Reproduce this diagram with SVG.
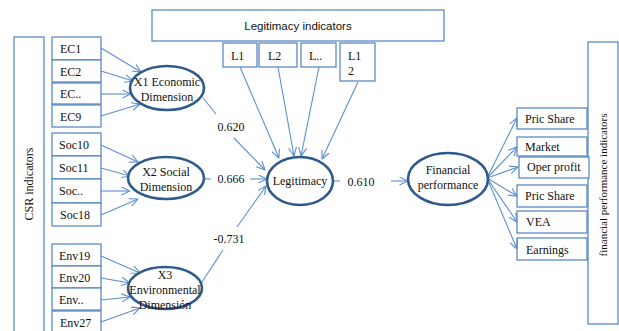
<svg xmlns="http://www.w3.org/2000/svg" width="619" height="331" viewBox="0 0 619 331">
<defs>
<marker id="arr" viewBox="0 0 10 10" refX="9.5" refY="5" markerWidth="9" markerHeight="9" markerUnits="userSpaceOnUse" orient="auto">
<path d="M0,0.5 L9.5,5 L0,9.5" fill="none" stroke="#5b8fd0" stroke-width="1.2"/>
</marker>
</defs>
<style>
.box{fill:#fff;stroke:#4f81bd;stroke-width:1.2}
.ell{fill:#fff;stroke:#2f5b8c;stroke-width:2.6}
.ln{fill:none;stroke:#5b8fd0;stroke-width:1.1}
.a{marker-end:url(#arr)}
.t{font-family:'Liberation Serif','Times New Roman',serif;font-size:12px;fill:#111}
.s{font-family:'Liberation Sans',Arial,sans-serif;font-size:11.5px;fill:#111}
.c{text-anchor:middle}
</style>
<rect width="619" height="331" fill="#fff"/>
<g font-family="Liberation Serif, serif">
<g id="csr-indicators">
<rect class="box" x="14" y="37" width="30" height="300"/>
<text class="t c" transform="translate(33,184) rotate(-90)">CSR indicators</text>
</g>
<g id="legitimacy-indicators">
<rect class="box" x="152" y="10" width="292" height="31"/>
<text class="s c" x="298" y="30">Legitimacy indicators</text>
</g>
<g id="fp-indicators">
<rect class="box" x="588" y="42" width="30" height="282"/>
<text class="t c" transform="translate(607,185) rotate(-90)" style="font-size:11px">financial performance indicators</text>
</g>

<g id="ec1"><rect class="box" x="52" y="37" width="49" height="23"/><text class="t" x="60" y="53">EC1</text></g>
<g id="ec2"><rect class="box" x="52" y="60" width="49" height="22"/><text class="t" x="60" y="76">EC2</text></g>
<g id="ecx"><rect class="box" x="52" y="83" width="49" height="21"/><text class="t" x="60" y="98">EC..</text></g>
<g id="ec9"><rect class="box" x="52" y="105" width="49" height="22"/><text class="t" x="60" y="121">EC9</text></g>

<g id="soc10"><rect class="box" x="52" y="133" width="49" height="23"/><text class="t" x="59" y="149">Soc10</text></g>
<g id="soc11"><rect class="box" x="52" y="156" width="49" height="23"/><text class="t" x="59" y="172">Soc11</text></g>
<g id="socx"><rect class="box" x="52" y="179" width="49" height="24"/><text class="t" x="59" y="195">Soc..</text></g>
<g id="soc18"><rect class="box" x="52" y="203" width="49" height="23"/><text class="t" x="60" y="219">Soc18</text></g>

<g id="env19"><rect class="box" x="52" y="244" width="49" height="22"/><text class="t" x="59" y="260">Env19</text></g>
<g id="env20"><rect class="box" x="52" y="266" width="49" height="22"/><text class="t" x="59" y="282">Env20</text></g>
<g id="envx"><rect class="box" x="52" y="288" width="49" height="22"/><text class="t" x="59" y="304">Env..</text></g>
<g id="env27"><rect class="box" x="52" y="311" width="49" height="24"/><text class="t" x="60" y="327">Env27</text></g>

<g id="l1"><rect class="box" x="223" y="43" width="34" height="24"/><text class="t" x="231" y="60">L1</text></g>
<g id="l2"><rect class="box" x="259" y="43" width="38" height="24"/><text class="t" x="268" y="60">L2</text></g>
<g id="lx"><rect class="box" x="301" y="43" width="35" height="24"/><text class="t" x="309" y="60">L..</text></g>
<g id="l12"><rect class="box" x="340" y="43" width="35" height="38"/><text class="t" x="348" y="60">L1</text><text class="t" x="348" y="75">2</text></g>

<g id="pric-share-1"><rect class="box" x="517" y="108" width="70" height="21"/><text class="t" x="525" y="123">Pric Share</text></g>
<g id="market"><rect class="box" x="517" y="137" width="70" height="19"/><text class="t" x="525" y="151">Market</text></g>
<g id="oper-profit"><rect class="box" x="519" y="157" width="70" height="21"/><text class="t" x="527" y="171">Oper profit</text></g>
<g id="pric-share-2"><rect class="box" x="517" y="185" width="70" height="22"/><text class="t" x="525" y="200">Pric Share</text></g>
<g id="vea"><rect class="box" x="517" y="211" width="70" height="22"/><text class="t" x="526" y="226">VEA</text></g>
<g id="earnings"><rect class="box" x="517" y="238" width="70" height="22"/><text class="t" x="526" y="254">Earnings</text></g>

<g id="connectors">
<line class="ln a" x1="101" y1="48" x2="141" y2="72"/>
<line class="ln a" x1="101" y1="71" x2="133" y2="81"/>
<line class="ln a" x1="101" y1="94" x2="131" y2="94"/>
<line class="ln a" x1="101" y1="116" x2="140" y2="104"/>

<line class="ln a" x1="101" y1="145" x2="138" y2="162"/>
<line class="ln a" x1="101" y1="168" x2="130" y2="176"/>
<line class="ln a" x1="101" y1="191" x2="130" y2="191"/>
<line class="ln a" x1="101" y1="215" x2="138" y2="199"/>

<line class="ln a" x1="101" y1="256" x2="140" y2="273"/>
<line class="ln a" x1="101" y1="278" x2="130" y2="283"/>
<line class="ln a" x1="101" y1="300" x2="130" y2="297"/>
<line class="ln a" x1="101" y1="322" x2="140" y2="308"/>

<line class="ln" x1="203" y1="98" x2="216" y2="114"/>
<line class="ln a" x1="234" y1="138" x2="265" y2="170"/>
<line class="ln" x1="204" y1="179" x2="211" y2="179"/>
<line class="ln a" x1="250" y1="179" x2="267" y2="179"/>
<line class="ln" x1="200" y1="285" x2="223" y2="250"/>
<line class="ln a" x1="237" y1="227" x2="266" y2="186"/>

<line class="ln a" x1="240" y1="67" x2="279" y2="158"/>
<line class="ln a" x1="278" y1="67" x2="294" y2="156"/>
<line class="ln a" x1="319" y1="67" x2="301" y2="156"/>
<line class="ln a" x1="358" y1="82" x2="322" y2="159"/>

<line class="ln" x1="333" y1="181" x2="340" y2="181"/>
<line class="ln a" x1="391" y1="181" x2="408" y2="181"/>

<line class="ln a" x1="487" y1="178" x2="517" y2="118"/>
<line class="ln a" x1="487" y1="178" x2="517" y2="147"/>
<line class="ln a" x1="487" y1="178" x2="518" y2="167"/>
<line class="ln a" x1="487" y1="178" x2="517" y2="196"/>
<line class="ln a" x1="487" y1="178" x2="517" y2="222"/>
<line class="ln a" x1="487" y1="178" x2="517" y2="249"/>

<text class="t c" x="231" y="131">0.620</text>
<text class="t c" x="231" y="183">0.666</text>
<text class="t c" x="229" y="243">-0.731</text>
<text class="t c" x="361" y="186">0.610</text>
</g>

<g id="x1"><ellipse class="ell" cx="167" cy="88" rx="37" ry="22"/><text class="t c" x="167" y="86">X1 Economic</text><text class="t c" x="167" y="101">Dimension</text></g>
<g id="x2"><ellipse class="ell" cx="166" cy="178" rx="38" ry="21"/><text class="t c" x="166" y="176">X2 Social</text><text class="t c" x="166" y="191">Dimension</text></g>
<g id="x3"><ellipse class="ell" cx="165" cy="288" rx="37" ry="21"/><text class="t c" x="165" y="279">X3</text><text class="t c" x="165" y="294">Environmental</text><text class="t c" x="165" y="309">Dimensión</text></g>
<g id="legitimacy"><ellipse class="ell" cx="300" cy="181" rx="33" ry="24"/><text class="t c" x="300" y="185">Legitimacy</text></g>
<g id="financial-performance"><ellipse class="ell" cx="448" cy="179" rx="40" ry="26"/><text class="t c" x="448" y="174">Financial</text><text class="t c" x="448" y="189">performance</text></g>
</g>
</svg>
